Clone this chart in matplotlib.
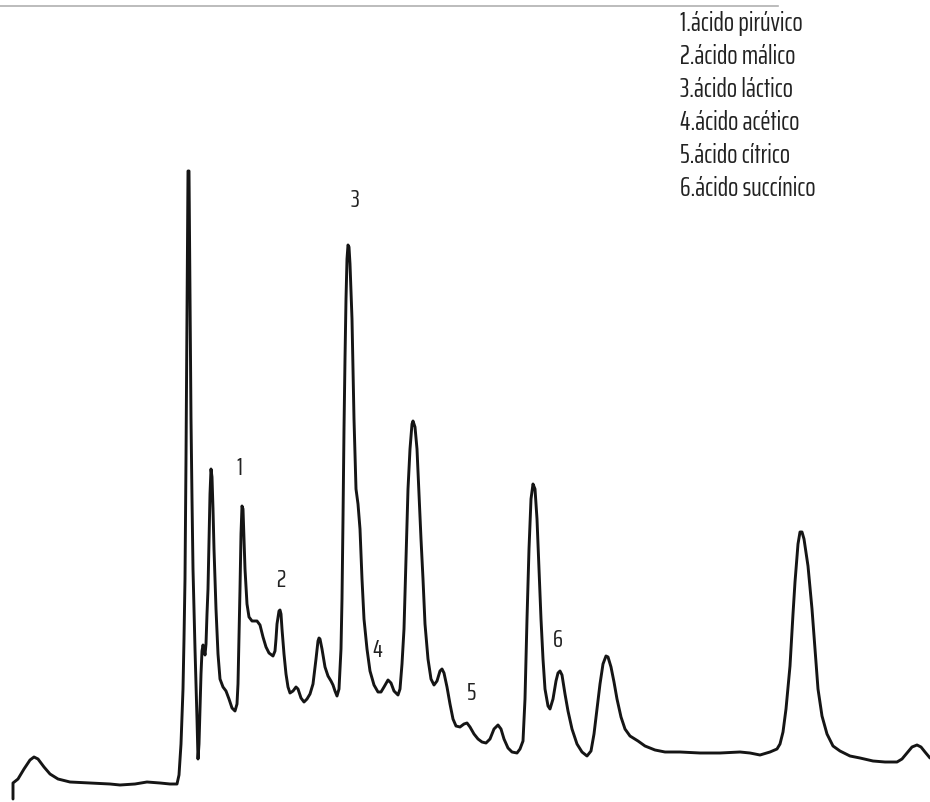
import matplotlib
matplotlib.use('Agg')
import matplotlib.pyplot as plt

# detector trace (retention units, signal units)
time = [13, 13, 18, 24, 30, 34, 38, 44, 50, 58, 70, 90, 110, 120, 135, 147, 160, 170, 177,
        179, 181, 183, 184, 185, 186, 187, 188, 189, 190, 191, 192, 193, 195, 197, 198,
        199, 200, 201, 202, 203, 204, 205, 206, 207, 208, 209, 210, 211, 212, 213, 214,
        216, 218, 220, 223, 226, 229, 232, 235, 237, 238, 239, 240, 241, 242, 243, 244,
        245, 247, 249, 252, 257, 260, 263, 266, 269, 273, 275, 276, 277, 279, 280, 281,
        282, 284, 286, 288, 290, 293, 296, 298, 301, 304, 307, 310, 313, 316, 318, 319,
        320, 322, 325, 328, 331, 333, 335, 337, 339, 341, 342, 343, 344, 345, 346, 347,
        348, 349, 350, 352, 354, 356, 358, 360, 362, 364, 367, 370, 374, 378, 381, 384,
        388, 391, 394, 398, 400, 402, 404, 406, 408, 410, 412, 413, 415, 417, 419, 421,
        423, 425, 428, 431, 434, 437, 440, 442, 444, 447, 450, 453, 456, 460, 464, 467,
        470, 474, 478, 482, 486, 490, 494, 498, 501, 504, 508, 512, 517, 520, 523, 525,
        527, 529, 531, 533, 535, 537, 539, 541, 543, 545, 548, 550, 553, 556, 558, 560,
        562, 565, 568, 572, 577, 582, 587, 591, 594, 597, 600, 603, 606, 608, 611, 614,
        617, 621, 625, 630, 638, 645, 655, 665, 680, 700, 720, 740, 750, 760, 770, 777,
        780, 783, 786, 790, 793, 795, 798, 800, 802, 804, 808, 812, 815, 818, 822, 827,
        833, 840, 850, 860, 873, 885, 897, 902, 907, 912, 917, 921, 925, 930]
signal = [3, 19, 23, 33, 42, 45, 43, 35, 28, 23, 20, 19, 18, 17, 18, 20, 19, 18, 18,
          27, 58, 113, 163, 223, 343, 483, 631, 631, 513, 383, 303, 233, 153, 83, 43,
          58, 93, 128, 151, 157, 153, 147, 158, 188, 213, 263, 308, 333, 325, 293, 253,
          193, 148, 123, 115, 111, 103, 94, 91, 98, 118, 163, 213, 268, 296, 293, 263,
          233, 198, 185, 181, 181, 177, 165, 155, 149, 146, 151, 163, 178, 191, 192, 188,
          173, 148, 128, 115, 109, 111, 115, 113, 104, 100, 103, 108, 118, 143, 161, 164,
          163, 153, 135, 126, 121, 117, 111, 106, 113, 153, 203, 283, 373, 443, 503, 543,
          557, 555, 538, 483, 383, 313, 298, 273, 223, 183, 153, 131, 117, 110, 110, 115,
          122, 119, 111, 107, 113, 138, 173, 243, 313, 353, 378, 381, 375, 353, 308, 263,
          223, 178, 143, 123, 117, 121, 131, 133, 129, 115, 98, 83, 76, 75, 78, 79,
          75, 68, 63, 60, 59, 63, 73, 77, 73, 63, 54, 50, 49, 53, 61, 103,
          183, 253, 303, 318, 313, 283, 233, 183, 143, 113, 96, 93, 103, 121, 129, 131,
          127, 108, 91, 73, 58, 50, 46, 51, 68, 93, 118, 138, 146, 145, 135, 120,
          103, 85, 73, 66, 61, 56, 52, 50, 50, 49, 49, 50, 49, 47, 50, 53,
          58, 70, 93, 136, 188, 220, 258, 270, 270, 263, 236, 193, 153, 113, 86, 68,
          56, 51, 46, 44, 41, 40, 40, 43, 49, 55, 57, 55, 50, 44]

# peak numbers and their positions above the trace
peak_ids = ['1', '2', '3', '4', '5', '6']
peak_label_time = [239, 281, 355, 377, 471, 558]
peak_label_signal = [335, 223, 603, 153, 110, 163]

compounds = ['ácido pirúvico', 'ácido málico', 'ácido láctico',
             'ácido acético', 'ácido cítrico', 'ácido succínico']

font = ['Saira ExtraCondensed', 'Big Shoulders Text', 'DejaVu Sans']

fig = plt.figure(figsize=(9.3, 8.03), dpi=100)
fig.patch.set_facecolor('white')
ax = fig.add_axes([0, 0, 1, 1])
ax.set_xlim(0, 930)
ax.set_ylim(0, 803)
ax.axis('off')

ax.plot(time, signal, color='#151515', linewidth=2.1,
        solid_joinstyle='round', solid_capstyle='round')

# rule across the top of the sheet
ax.plot([0, 778], [796, 796], color='#b0b0b0', linewidth=1.2)

for pid, tx, sy in zip(peak_ids, peak_label_time, peak_label_signal):
    ax.text(tx, sy, pid, family=font, fontsize=18.5,
            color='#222222', ha='center', va='center')

for i, name in enumerate(compounds):
    ax.text(680, 779 - i * 32.8, f'{i + 1}.{name}', family=font,
            fontsize=19.5, color='#222222', ha='left', va='center')

plt.savefig('out.png', dpi=100, facecolor='white')
